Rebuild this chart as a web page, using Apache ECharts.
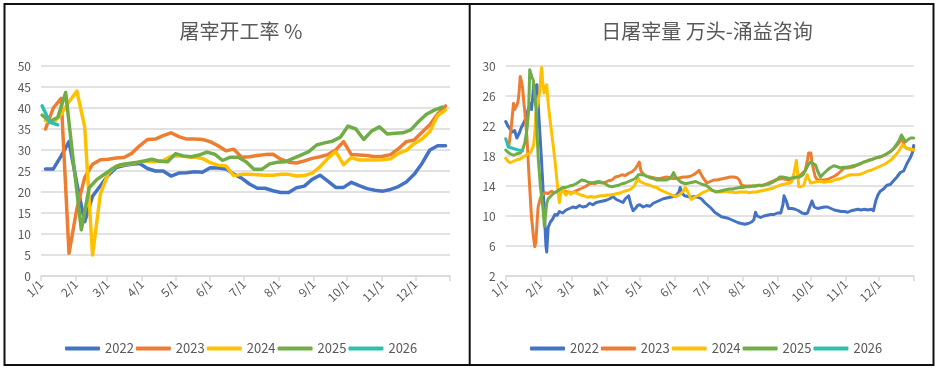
<!DOCTYPE html>
<html>
<head>
<meta charset="utf-8">
<script src="https://cdn.jsdelivr.net/npm/echarts@6/dist/echarts.min.js"></script>
<style>
html,body{margin:0;padding:0;background:#fff;}
#chart{width:940px;height:368px;}
</style>
</head>
<body>
<div id="chart"></div>
<script>
// ---------- shared axis labels ----------
const monthStarts = [0, 31, 59, 90, 120, 151, 181, 212, 243, 273, 304, 334];
const monthTicks = [0, 31, 59, 90, 120, 151, 181, 212, 243, 273, 304, 334, 365];
const monthLabels = ['1/1','2/1','3/1','4/1','5/1','6/1','7/1','8/1','9/1','10/1','11/1','12/1'];
const yearNames = ['2022','2023','2024','2025','2026'];
const titleLeft = '屠宰开工率 %';
const titleRight = '日屠宰量 万头-涌益咨询';
const rightYTicks = [2, 6, 10, 14, 18, 22, 26, 30];

// ---------- left chart: weekly slaughter operating rate (%) ----------
const weekDaysA = [4,11,18,25,32,39,46,53,60,67,74,81,88,95,102,109,116,123,130,137,144,151,158,165,172,179,186,193,200,207,214,221,228,235,242,249,256,263,270,277,284,291,298,305,312,319,326,333,340,347,354,361];
const weekDaysB = [1,8,15,22,29,36,43,50,57,64,71,78,85,92,99,106,113,120,127,134,141,148,155,162,169,176,183,190,197,204,211,218,225,232,239,246,253,260,267,274,281,288,295,302,309,316,323,330,337,344,351,358];
const weekDays2026 = [1, 8, 15];

const rate2022 = [25.5,25.5,28.6,32,22,12.9,19,21.5,24,25.8,26.3,26.6,26.8,25.6,25,25,23.8,24.5,24.6,24.8,24.7,25.8,25.7,25.5,24.3,23.3,21.9,20.9,20.9,20.3,19.9,19.9,21,21.4,23,24,22.6,21.1,21.1,22.3,21.5,20.8,20.4,20.2,20.6,21.3,22.4,24.2,26.8,30,31,31];
const rate2023 = [35,40,42.3,5.4,16,23.5,26.6,27.7,27.8,28.1,28.2,29.2,31,32.5,32.6,33.4,34.1,33.2,32.6,32.6,32.5,32,31,29.8,30.2,28.3,28.4,28.7,28.9,29,27.8,27.1,26.9,27.4,28,28.4,28.9,30,32,28.9,28.8,28.7,28.4,28.5,28.9,30.3,32,32.4,34.2,36,38.6,40.5];
const rate2024 = [37,36.5,38.5,41.5,44,35.5,5,19.5,24.5,26.2,26.5,26.8,27.2,27.3,27.2,27.5,28.5,28.6,28.4,28.3,28,27,26.4,26.2,23.9,24.2,24.2,24.1,24,24,24.2,24.2,23.8,23.9,24.5,26,28,29.6,26.5,28.2,27.6,27.6,27.6,27.7,27.9,29.2,29.9,31.5,32.6,34.4,38.2,39.5];
const rate2025 = [38.3,36.8,37.8,43.7,27,11,21,23,24.3,25.6,26.5,26.8,27,27.4,27.8,27.3,27.2,29.1,28.6,28.4,28.8,29.5,29,27.5,28.3,28.3,27.2,25.4,25.4,26.7,27.1,27.2,28,28.8,29.6,31.2,31.7,32.1,33,35.7,35,32.5,34.5,35.5,33.8,34,34.1,34.8,36.8,38.5,39.5,40.2];
const rate2026 = [40.5,36.6,36];

// ---------- right chart: daily slaughter volume (10k head), [day of year, value] ----------
const daily2022 = [[0,22.6],[2,22],[4,21.6],[6,21.2],[8,21.4],[10,20.4],[12,21],[14,21.8],[16,22.4],[18,23],[20,24.2],[22,25],[23,24.2],[24,25.5],[25,27.6],[26,27.7],[27,26.5],[28,27.5],[29,25],[30,22.5],[32,17.5],[34,12],[36,6],[36.7,5.2],[38,8.5],[40,9.2],[42,9.6],[44,10.2],[46,10.1],[48,10.6],[51,10.4],[54,10.8],[57,11],[60,11.2],[63,11.1],[66,11.4],[69,11.2],[72,11.3],[75,11.7],[78,11.5],[81,11.8],[84,11.9],[87,12],[90,12.1],[93,12.3],[96,12.6],[99,12.2],[102,12],[105,11.8],[107,12.3],[110,12.7],[112,11.5],[114,10.7],[116,11],[118,11.4],[120,11.5],[123,11.2],[126,11.4],[129,11.3],[132,11.7],[135,11.9],[138,12.1],[141,12.3],[144,12.4],[147,12.5],[150,12.6],[153,12.8],[155,13.2],[156,13.8],[158,13],[160,12.7],[163,12.6],[166,12.5],[169,12.6],[172,12.5],[175,12.3],[178,11.8],[181,11.4],[184,11],[187,10.5],[190,10.2],[193,9.9],[196,9.8],[199,9.7],[202,9.5],[205,9.3],[208,9.1],[211,9],[214,8.9],[217,9],[220,9.2],[222,9.5],[223.5,10.5],[225,10],[228,9.8],[231,10],[234,10.1],[237,10.2],[240,10.2],[243,10.4],[246,10.4],[248,11.5],[249,12.7],[251,12],[253,11],[256,11],[259,10.9],[262,10.7],[265,10.4],[268,10.3],[270,10.4],[272,11.2],[274,12],[276,11.2],[279,11],[282,11.1],[285,11.2],[288,11.2],[291,11],[294,10.8],[297,10.7],[300,10.6],[303,10.6],[306,10.5],[309,10.7],[312,10.8],[315,10.9],[318,10.8],[321,10.9],[324,10.8],[327,10.9],[329,10.7],[331,12],[333,12.8],[335,13.3],[338,13.6],[341,14.1],[344,14.2],[347,14.7],[350,15.2],[353,15.8],[356,16],[359,17],[362,17.8],[364,18.5],[365,19.4]];
const daily2023 = [[3,19.5],[5,21.9],[7,25],[8,24.2],[10,24.8],[11,25.2],[12,26.5],[13,28.6],[14,28],[15,27.2],[16,25.5],[17,24],[19,20.5],[21,15],[23,10],[25,7],[26,5.9],[27,6.5],[28,9],[29,11.2],[31,12.4],[33,12.8],[35,13.1],[38,13],[41,13.3],[44,13.1],[47,13.4],[50,13.5],[53,13.3],[56,13.2],[59,13.1],[62,13.3],[65,13.5],[68,13.7],[71,13.9],[74,14.2],[77,14.4],[80,14.3],[83,14.5],[86,14.4],[89,14.5],[92,14.7],[95,14.8],[98,15.2],[101,15.3],[104,15.5],[107,15.4],[110,15.7],[113,15.9],[116,16.3],[118,16.8],[119.5,17.2],[121,16],[123,15.6],[126,15.3],[129,15.2],[132,15.1],[135,15],[138,15],[141,15.1],[144,15.2],[147,15.1],[150,15],[153,15],[156,15.1],[159,15.2],[162,15.2],[165,15.3],[168,15.5],[171,15.8],[173,16.1],[175,15.5],[177,15],[180,14.4],[183,14.6],[186,14.8],[189,14.8],[192,14.9],[195,15],[198,15.1],[201,15.2],[204,15.2],[207,15.1],[209,14.8],[211,14.1],[214,14],[217,14],[220,14],[223,14],[226,14.1],[229,14],[232,14.2],[235,14.4],[238,14.6],[241,14.8],[244,14.9],[247,15],[250,14.9],[253,14.8],[256,14.9],[259,15.1],[262,15.3],[264,15.5],[266,15.8],[268,16.1],[270,17.5],[271,18.4],[273,18.4],[274,17.2],[275.5,16.1],[277,15.2],[279,14.8],[282,14.8],[285,14.8],[288,14.9],[291,15.1],[294,15.3],[297,15.6],[300,16],[303,16.4],[306,16.4],[309,16.5],[312,16.6],[315,16.8],[318,17],[321,17.2],[324,17.4],[327,17.5],[330,17.7],[333,17.8],[336,17.9],[339,18.1],[342,18.4],[345,18.7],[348,19.1],[351,19.6],[353,20],[355,20.4],[356.5,19.3],[359,19],[362,18.9],[365,18.8]];
const daily2024 = [[0,17.7],[2,17.3],[4,17.1],[7,17.3],[10,17.5],[13,17.6],[16,17.9],[19,18.2],[22,18.4],[24,19],[25,19.5],[26,21],[27,23.7],[29,25.5],[30.5,26.4],[31.5,29],[32.2,29.8],[33,28],[34.3,26.4],[35.5,27.2],[36.7,27.5],[38,25],[39.7,22.8],[42,20],[44,17.5],[46,14.5],[48,11.8],[50,13.7],[52,13.2],[54,12.8],[56,13.3],[58,12.9],[61,13.2],[64,13],[67,12.8],[70,12.7],[73,12.5],[76,12.6],[79,12.5],[82,12.6],[85,12.7],[88,12.7],[91,12.8],[94,12.8],[97,12.9],[100,13],[103,13.1],[106,13.3],[109,13.4],[112,13.6],[115,14],[117,14.6],[118.8,15],[120,14.6],[123,14.4],[126,14.2],[129,14.1],[132,13.9],[135,13.8],[138,13.5],[141,13.3],[144,13.1],[147,12.9],[150,12.7],[153,12.6],[156,12.9],[159,13.3],[160.7,13.8],[163,13.2],[166,12.2],[168,12.4],[170,12.6],[173,12.8],[176,13.1],[179,13.3],[182,13.5],[185,13.4],[188,13.3],[191,13.2],[194,13.2],[197,13.3],[200,13.2],[203,13.2],[206,13.1],[209,13.2],[212,13.2],[215,13.2],[218,13.1],[221,13.2],[224,13.2],[227,13.3],[230,13.4],[233,13.5],[236,13.6],[239,13.7],[242,13.9],[245,14.1],[248,14.2],[251,14.3],[254,14.4],[256,14.6],[258,15.8],[260,17.4],[261,16],[262.2,13.9],[264,13.9],[266.7,14.1],[268,14.8],[269.7,15.5],[271,15],[272.7,14.4],[276,14.5],[279,14.6],[282,14.6],[285,14.5],[288,14.6],[291,14.6],[294,14.8],[297,14.9],[300,15],[303,15.2],[306,15.4],[309,15.5],[312,15.5],[315,15.5],[318,15.6],[321,15.8],[324,16],[327,16.1],[330,16.3],[333,16.5],[336,16.7],[339,16.9],[342,17.2],[345,17.5],[348,18],[351,18.5],[353,19],[355,19.5],[357,19.2],[360,19],[363,18.9],[365,18.8]];
const daily2025 = [[0,18.8],[2,18.5],[4,18.3],[7,18.1],[10,18.3],[13,18.4],[15,18.8],[17,19.7],[19,21.5],[20.5,24],[21.5,29.5],[22.5,29.6],[23.5,28.5],[24.7,28.1],[26,26],[27.2,24.1],[28.2,20.5],[29.2,17.5],[31,14],[33.2,11.2],[34.6,8.6],[36.7,11.7],[38,12.3],[40,12.6],[42.7,13],[45,13.2],[48,13.5],[51,13.8],[54,13.8],[57,14],[60,14.1],[63,14.3],[66,14.6],[68,14.8],[71,14.7],[74,14.5],[77,14.4],[80,14.5],[83,14.6],[86,14.5],[89,14.3],[92,14],[95,13.9],[98,14],[101,14.1],[104,14.3],[107,14.4],[110,14.6],[113,14.8],[116,15],[118.8,15.5],[120.3,15.7],[123,15.5],[126,15.3],[129,15.1],[132,15],[135,14.8],[138,14.8],[141,14.8],[144,14.8],[147,15],[149,15.4],[150.2,15.8],[152,15.2],[154.7,14.8],[157,14.5],[160.7,14.3],[164,14.4],[167,14.5],[170,14.6],[173,14.4],[176,14.2],[179,14.1],[182,13.8],[185,13.4],[188,13.2],[191,13.3],[194,13.4],[197,13.5],[200,13.6],[203,13.6],[206,13.7],[209,13.8],[212,13.8],[215,13.9],[218,13.9],[221,14],[224,14],[227,14.1],[230,14.1],[233,14.2],[236,14.3],[239,14.5],[242,14.8],[245,15.2],[248,15.2],[251,15.1],[254,15],[257,15.1],[260,15.2],[263,15.2],[266,15.5],[268.2,16.1],[270.5,16.8],[272.7,17.2],[275,17],[277.2,16.8],[279,16],[281.6,15.2],[284,15.6],[287.6,16.1],[290,16.4],[293.6,16.7],[296,16.6],[299.6,16.4],[302,16.5],[305,16.5],[308.5,16.6],[311,16.7],[314,16.8],[317.5,17],[320,17.2],[323,17.3],[326.4,17.5],[329,17.6],[332,17.8],[335.4,17.9],[338,18.1],[341,18.3],[344.4,18.6],[347,19],[350,19.6],[352,20.1],[354,20.8],[355,20.6],[357.8,19.9],[360,20.2],[362.3,20.4],[365,20.4]];
const daily2026 = [[0,20.3],[1,20.1],[2.3,19.2],[4,19],[6.8,19],[9,18.9],[11.3,18.8],[13,18.9],[15,18.7]];

const colors = ['#4472C4', '#ED7D31', '#FFC000', '#70AD47', '#2EBFB0'];
const textColor = '#595959';
const gridColor = '#D9D9D9';
const fontFam = "'Noto Sans CJK SC', 'Noto Sans', sans-serif";

function zip(days, vals) { return vals.map((v, i) => [days[i], v]); }

const leftData = [
  zip(weekDaysA, rate2022),
  zip(weekDaysA, rate2023),
  zip(weekDaysA, rate2024),
  zip(weekDaysB, rate2025),
  zip(weekDays2026, rate2026)
];
const rightData = [daily2022, daily2023, daily2024, daily2025, daily2026];

function xAxisFor(idx) {
  return {
    gridIndex: idx, type: 'value', min: 0, max: 365,
    splitLine: { show: false },
    axisLine: { show: true, lineStyle: { color: gridColor, width: 1.5 } },
    axisTick: { show: true, customValues: monthTicks, length: 5, lineStyle: { color: gridColor, width: 1.5 } },
    axisLabel: {
      customValues: monthStarts, rotate: 45, margin: 6,
      color: textColor, fontSize: 12, fontFamily: fontFam,
      formatter: v => monthLabels[monthStarts.indexOf(v)]
    }
  };
}

const series = [];
yearNames.forEach((n, i) => {
  series.push({
    name: n, type: 'line', xAxisIndex: 0, yAxisIndex: 0,
    data: leftData[i], showSymbol: false, symbol: 'none',
    color: colors[i],
    lineStyle: { width: 3.5, color: colors[i], cap: 'round', join: 'round' },
    z: 2 + i
  });
});
yearNames.forEach((n, i) => {
  series.push({
    name: n, type: 'line', xAxisIndex: 1, yAxisIndex: 1,
    data: rightData[i], showSymbol: false, symbol: 'none',
    color: colors[i],
    lineStyle: { width: 3, color: colors[i], cap: 'round', join: 'round' },
    z: 2 + i
  });
});

const legendBase = {
  data: yearNames, icon: 'roundRect', itemWidth: 35, itemHeight: 4,
  itemGap: 2, top: 337,
  textStyle: { color: textColor, fontSize: 13, fontFamily: fontFam }
};

const option = {
  animation: false,
  backgroundColor: '#fff',
  title: [
    { text: titleLeft, left: 236, top: 16, textAlign: 'center',
      textStyle: { color: textColor, fontSize: 20, fontWeight: 'normal', fontFamily: fontFam } },
    { text: titleRight, left: 702, top: 16, textAlign: 'center',
      textStyle: { color: textColor, fontSize: 20, fontWeight: 'normal', fontFamily: fontFam } }
  ],
  legend: [
    Object.assign({}, legendBase, { left: 60 }),
    Object.assign({}, legendBase, { left: 525 })
  ],
  grid: [
    { left: 41, top: 66, width: 409, height: 210 },
    { left: 505.7, top: 66, width: 408, height: 210 }
  ],
  xAxis: [xAxisFor(0), xAxisFor(1)],
  yAxis: [
    { gridIndex: 0, type: 'value', min: 0, max: 50, interval: 5,
      axisLine: { show: false }, axisTick: { show: false },
      axisLabel: { color: textColor, fontSize: 12, margin: 10, fontFamily: fontFam },
      splitLine: { lineStyle: { color: gridColor, width: 1.5 } } },
    { gridIndex: 1, type: 'value', min: 2, max: 30, interval: 4,
      axisLine: { show: false }, axisTick: { show: false, customValues: rightYTicks },
      axisLabel: { customValues: rightYTicks, color: textColor, fontSize: 12, margin: 10, fontFamily: fontFam },
      splitLine: { lineStyle: { color: gridColor, width: 1.5 } } }
  ],
  graphic: [
    { type: 'rect', shape: { x: 4.5, y: 4, width: 929, height: 361 },
      style: { fill: null, stroke: '#111', lineWidth: 2 }, silent: true },
    { type: 'line', shape: { x1: 469.7, y1: 4, x2: 469.7, y2: 365 },
      style: { stroke: '#111', lineWidth: 2 }, silent: true }
  ],
  series: series
};

const chart = echarts.init(document.getElementById('chart'), null, { renderer: 'canvas' });
chart.setOption(option);
</script>
</body>
</html>
